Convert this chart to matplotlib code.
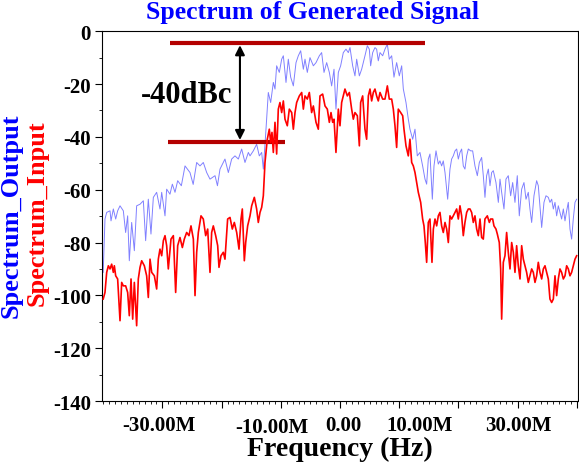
import numpy as np
import matplotlib.pyplot as plt
from matplotlib.transforms import ScaledTranslation

# spectrum traces (MHz, dB)
out_freq = [-40.0, -39.70, -39.41, -38.85, -38.68, -38.29, -37.89, -37.56, -37.16, -36.60,
            -36.21, -35.87, -35.59, -35.19, -34.74, -34.35, -33.78, -33.22, -32.83, -32.38,
            -31.93, -31.53, -30.97, -30.41, -30.12, -29.56, -29.28, -28.72, -28.32, -27.87,
            -27.42, -26.80, -26.18, -25.34, -24.80, -24.21, -23.65, -23.09, -22.52, -21.96,
            -21.11, -20.70, -20.27, -19.43, -18.86, -18.30, -17.74, -17.17, -16.61, -16.05,
            -15.48, -15.20, -14.64, -14.08, -13.63, -13.23, -12.95, -12.50, -12.11, -11.71,
            -11.26, -10.98, -10.70, -10.25, -9.85, -9.57, -9.12, -8.73, -8.33, -7.88,
            -7.43, -7.04, -6.64, -6.19, -5.91, -5.52, -5.07, -4.50, -4.05, -3.49,
            -3.10, -2.70, -2.25, -1.80, -1.41, -1.01, -0.68, -0.28, 0.11, 0.56,
            1.01, 1.41, 1.69, 2.14, 2.53, 2.82, 3.27, 3.66, 3.94, 4.22,
            4.62, 4.95, 5.18, 5.52, 5.91, 6.19, 6.47, 6.76, 7.21, 7.60,
            8.00, 8.33, 8.73, 9.12, 9.57, 10.02, 10.42, 10.70, 11.15, 11.54,
            11.82, 12.28, 12.67, 13.06, 13.51, 13.96, 14.36, 14.64, 14.92, 15.20,
            15.60, 15.88, 16.22, 16.61, 16.89, 17.17, 17.45, 17.74, 18.19, 18.58,
            18.86, 19.14, 19.43, 19.71, 19.99, 20.27, 20.55, 20.83, 21.11, 21.40,
            21.68, 22.07, 22.41, 22.80, 23.20, 23.54, 23.93, 24.21, 24.49, 24.77,
            25.06, 25.34, 25.62, 25.90, 26.35, 26.75, 27.03, 27.31, 27.70, 28.04,
            28.43, 28.83, 29.17, 29.56, 29.95, 30.29, 30.69, 31.08, 31.42, 31.81,
            32.09, 32.38, 32.77, 33.22, 33.50, 33.78, 34.07, 34.46, 34.80, 35.19,
            35.47, 35.76, 36.04, 36.32, 36.60, 36.88, 37.16, 37.44, 37.73, 38.01,
            38.29, 38.57, 38.85, 39.13, 39.41, 39.70, 39.98]
out_db = [-91.3, -71.1, -68.6, -68.0, -71.8, -67.3, -71.1, -68.0, -66.1, -68.0,
          -76.2, -69.9, -86.9, -72.4, -83.1, -66.1, -65.5, -64.2, -79.3, -63.6,
          -76.8, -62.9, -61.0, -67.3, -61.0, -69.9, -59.8, -61.7, -57.9, -61.0,
          -56.6, -58.5, -51.0, -53.5, -58.0, -49.7, -51.0, -49.7, -53.5, -56.0,
          -54.7, -58.5, -52.2, -48.4, -53.5, -48.4, -47.2, -48.4, -44.6, -49.7,
          -45.9, -47.2, -45.3, -42.8, -47.2, -45.9, -52.2, -37.1, -23.2, -27.0,
          -19.4, -21.9, -13.1, -15.6, -10.6, -9.3, -19.4, -10.6, -17.4, -20.7,
          -11.9, -9.3, -7.4, -14.4, -10.6, -15.6, -10.0, -13.1, -11.9, -9.3,
          -8.1, -15.6, -11.9, -15.6, -20.7, -14.4, -29.5, -15.6, -13.1, -8.1,
          -6.8, -8.1, -6.2, -13.1, -16.9, -10.6, -16.9, -14.4, -11.9, -9.3,
          -5.5, -6.8, -13.1, -8.1, -6.2, -6.8, -11.2, -8.1, -9.3, -6.8,
          -4.9, -10.6, -9.3, -17.4, -11.9, -16.9, -13.1, -21.9, -27.0, -33.3,
          -37.1, -40.9, -37.1, -47.2, -45.9, -51.0, -56.0, -57.9, -48.4, -46.5,
          -63.6, -51.0, -45.3, -50.3, -49.1, -51.0, -49.1, -53.5, -63.6, -52.2,
          -48.4, -47.2, -45.3, -44.6, -48.4, -45.9, -44.6, -51.0, -52.2, -47.2,
          -44.6, -45.3, -45.3, -51.0, -54.7, -49.7, -47.8, -54.7, -62.9, -54.7,
          -52.2, -58.5, -53.5, -52.8, -57.3, -64.8, -56.0, -61.0, -67.3, -56.0,
          -54.7, -62.3, -57.3, -64.8, -54.7, -69.9, -59.8, -57.3, -63.6, -61.0,
          -67.3, -72.4, -62.3, -56.6, -58.5, -66.1, -74.3, -64.8, -62.3, -62.9,
          -64.8, -63.6, -67.3, -64.8, -69.9, -66.1, -68.6, -71.1, -67.3, -71.8,
          -68.0, -64.8, -74.9, -78.7, -71.1, -64.8, -63.6]

in_freq = [-40.0, -39.70, -39.41, -39.13, -38.85, -38.57, -38.29, -38.12, -37.89, -37.56,
           -37.16, -36.88, -36.60, -36.21, -35.87, -35.59, -35.30, -35.02, -34.74, -34.35,
           -34.07, -33.78, -33.50, -33.05, -32.66, -32.38, -32.09, -31.81, -31.36, -30.97,
           -30.69, -30.41, -30.12, -29.84, -29.56, -29.28, -29.00, -28.55, -28.15, -27.76,
           -27.42, -27.03, -26.63, -26.30, -25.90, -25.51, -25.17, -24.77, -24.49, -24.21,
           -23.93, -23.48, -23.09, -22.69, -22.35, -21.96, -21.68, -21.40, -21.00, -20.66,
           -20.44, -20.10, -19.71, -19.43, -18.98, -18.58, -18.19, -17.85, -17.45, -17.06,
           -16.72, -16.50, -16.16, -15.93, -15.60, -15.20, -14.92, -14.47, -14.08, -13.80,
           -13.51, -13.23, -12.95, -12.67, -12.28, -11.94, -11.71, -11.49, -11.26, -10.98,
           -10.70, -10.42, -10.14, -9.85, -9.57, -9.29, -8.90, -8.56, -8.16, -7.88,
           -7.60, -7.32, -6.87, -6.47, -6.19, -5.91, -5.52, -5.18, -4.79, -4.50,
           -4.05, -3.66, -3.38, -2.93, -2.53, -2.14, -1.80, -1.52, -1.24, -1.01,
           -0.68, -0.28, 0.00, 0.28, 0.56, 0.84, 1.24, 1.58, 1.97, 2.25,
           2.53, 2.93, 3.27, 3.49, 3.83, 4.22, 4.50, 4.79, 5.07, 5.35,
           5.63, 5.91, 6.19, 6.47, 6.76, 7.21, 7.60, 8.00, 8.33, 8.73,
           9.01, 9.29, 9.57, 9.85, 10.25, 10.59, 10.81, 11.15, 11.54, 11.82,
           12.11, 12.39, 12.67, 12.95, 13.23, 13.63, 13.96, 14.19, 14.41, 14.64,
           14.92, 15.20, 15.54, 15.77, 16.05, 16.33, 16.61, 16.89, 17.17, 17.45,
           17.74, 18.02, 18.30, 18.58, 18.86, 19.14, 19.43, 19.71, 19.99, 20.27,
           20.55, 20.83, 21.11, 21.40, 21.68, 21.96, 22.24, 22.52, 22.80, 23.09,
           23.37, 23.65, 23.93, 24.21, 24.49, 24.89, 25.23, 25.45, 25.79, 26.01,
           26.35, 26.58, 26.91, 27.14, 27.31, 27.59, 27.87, 28.15, 28.43, 28.72,
           29.00, 29.28, 29.56, 29.84, 30.12, 30.41, 30.69, 30.97, 31.25, 31.53,
           31.81, 32.09, 32.38, 32.66, 32.94, 33.22, 33.50, 33.78, 34.07, 34.35,
           34.63, 34.91, 35.19, 35.47, 35.76, 36.04, 36.32, 36.60, 36.88, 37.16,
           37.44, 37.73, 38.01, 38.29, 38.57, 38.85, 39.13, 39.41, 39.70, 39.98]
in_db = [-101.4, -98.9, -91.3, -88.8, -90.0, -88.2, -91.3, -88.8, -92.6, -93.8,
         -109.6, -95.1, -96.4, -96.4, -98.9, -107.7, -93.8, -109.0, -95.1, -111.5,
         -93.8, -89.4, -86.9, -88.8, -92.6, -100.8, -86.3, -91.3, -92.6, -97.6,
         -86.3, -82.5, -85.0, -79.3, -77.4, -81.2, -90.0, -78.7, -77.4, -98.9,
         -81.2, -78.1, -81.9, -78.7, -76.2, -77.4, -73.7, -78.7, -100.1, -83.7,
         -76.2, -69.9, -71.1, -77.4, -74.9, -91.3, -76.2, -73.7, -77.4, -81.2,
         -89.4, -85.0, -83.7, -86.3, -71.1, -70.5, -74.9, -72.4, -76.2, -82.5,
         -71.1, -67.3, -86.9, -80.0, -73.7, -69.9, -66.1, -62.9, -67.3, -72.4,
         -68.6, -66.7, -62.3, -49.7, -40.9, -37.1, -42.1, -38.3, -45.9, -34.5,
         -46.5, -29.5, -27.0, -30.8, -26.4, -33.3, -35.8, -29.5, -30.8, -37.1,
         -30.8, -27.0, -24.5, -23.2, -29.5, -24.5, -25.7, -23.2, -30.8, -28.3,
         -34.5, -37.1, -24.5, -23.8, -28.3, -29.5, -34.5, -30.8, -34.5, -33.3,
         -45.9, -29.5, -35.8, -27.0, -24.5, -21.9, -24.5, -23.2, -29.5, -33.3,
         -30.8, -32.0, -43.4, -27.0, -24.5, -37.1, -40.9, -24.5, -21.9, -26.4,
         -23.2, -21.9, -24.5, -26.4, -23.2, -25.7, -25.7, -20.7, -25.7, -25.7,
         -29.5, -35.8, -44.0, -29.5, -30.8, -32.0, -37.1, -43.4, -47.2, -40.9,
         -49.7, -51.0, -53.5, -57.3, -61.0, -64.8, -71.1, -73.7, -80.0, -87.5,
         -72.4, -71.1, -87.5, -74.9, -71.1, -73.7, -69.9, -68.6, -73.7, -76.2,
         -72.4, -74.9, -80.0, -69.9, -71.1, -69.9, -68.6, -67.3, -71.1, -66.1,
         -69.9, -77.4, -72.4, -68.6, -67.3, -67.3, -68.6, -72.4, -69.9, -74.9,
         -77.4, -71.1, -78.1, -78.7, -71.1, -69.9, -72.4, -71.1, -71.1, -73.7,
         -74.9, -76.8, -80.0, -90.0, -109.0, -87.5, -85.0, -76.2, -83.7, -90.0,
         -80.0, -83.7, -91.3, -81.2, -88.8, -93.8, -81.2, -86.3, -88.8, -91.3,
         -95.1, -92.6, -90.0, -91.3, -95.1, -92.6, -87.5, -91.3, -93.8, -90.0,
         -88.8, -91.3, -93.8, -101.4, -102.7, -101.4, -92.6, -100.1, -93.8, -90.0,
         -91.3, -93.8, -92.6, -88.8, -90.0, -92.6, -91.3, -88.8, -86.3, -85.0]

# -40dBc marker
top_level = -4.5
low_level = -42.0
top_span = [-28.7, 14.4]
low_span = [-29.05, -9.3]
arrow_x = -16.9

xtick_pos = [-30, -20, -10, 0, 10, 20, 30, 40]
xtick_lab = ['-30.00M', '', '-10.00M', '0.00', '10.00M', '', '30.00M', '']

plt.rcParams['font.family'] = 'Liberation Serif'
plt.rcParams['font.weight'] = 'bold'
plt.rcParams['axes.unicode_minus'] = False

fig = plt.figure(figsize=(5.79, 4.64), dpi=100)
ax = fig.add_axes([0.1762, 0.1336, 0.822, 0.797])

ax.plot(out_freq, out_db, color='#8080ff', lw=0.7, zorder=2)
ax.hlines(top_level, top_span[0], top_span[1], color='#b40000', lw=3, zorder=3)
ax.hlines(low_level, low_span[0], low_span[1], color='#b40000', lw=3, zorder=3)
ax.plot(in_freq, in_db, color='#ff0000', lw=1.2, zorder=4)
ax.annotate('', xy=(arrow_x, top_level - 0.8), xytext=(arrow_x, low_level + 0.8),
            arrowprops=dict(arrowstyle='<|-|>', color='black', lw=1.5, mutation_scale=14,
                            shrinkA=0, shrinkB=0), zorder=5)
ax.text(-26.0, -23.8, '-40dBc', fontsize=22, ha='center', va='center')

ax.set_xlim(-40.2, 40.2)
ax.set_ylim(-140, 0)
ax.set_xticks(xtick_pos)
ax.set_xticklabels(xtick_lab)
ax.set_xticks(np.arange(-40, 41, 1), minor=True)
ax.set_yticks(np.arange(-140, 1, 20))
ax.set_yticks(np.arange(-140, 1, 10), minor=True)
ax.tick_params(which='major', direction='out', length=5, width=0.8, labelsize=15, pad=3)
ax.tick_params(which='minor', direction='out', length=2.5, width=0.6)
ax.tick_params(axis='x', which='major', pad=5)

# ADS style label placement
shifts = [-0.03, 0, -0.09, 0.03, 0.2, 0, 0.01, 0]
drops = [0, 0, -0.02, 0, 0, 0, 0, 0]
for lab, dx, dy in zip(ax.get_xticklabels(), shifts, drops):
    lab.set_transform(lab.get_transform() + ScaledTranslation(dx, dy, fig.dpi_scale_trans))

for s in ax.spines.values():
    s.set_linewidth(0.8)

fig.text(0.54, 0.974, 'Spectrum of Generated Signal', color='#0000ff', fontsize=18.5,
         ha='center', va='center')
fig.text(0.587, 0.031, 'Frequency (Hz)', fontsize=20, ha='center', va='center')
fig.text(0.02, 0.534, 'Spectrum_Output', color='#0000ff', fontsize=19, rotation=90,
         ha='center', va='center')
fig.text(0.064, 0.541, 'Spectrum_Input', color='#ff0000', fontsize=19, rotation=90,
         ha='center', va='center')

fig.savefig('out.png', dpi=100)
